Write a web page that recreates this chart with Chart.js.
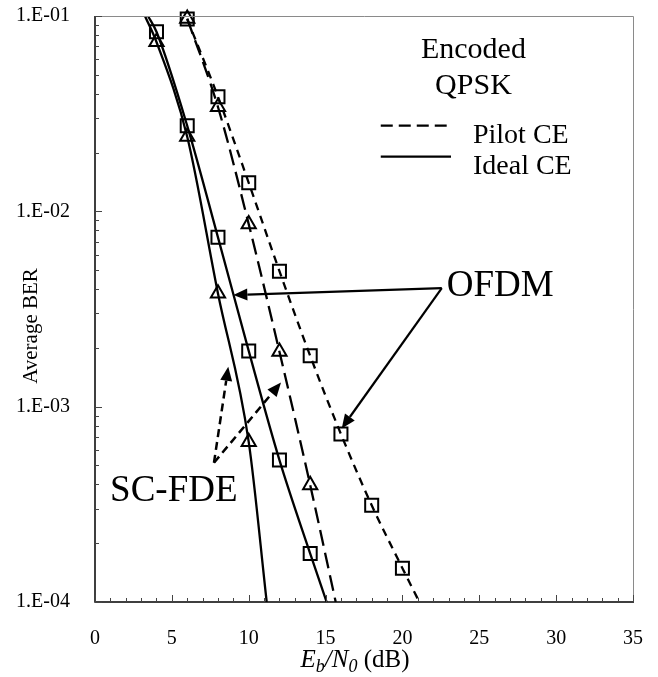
<!DOCTYPE html>
<html><head><meta charset="utf-8">
<script src="https://cdn.jsdelivr.net/npm/chart.js@4.4.0/dist/chart.umd.min.js"></script>
<style>html,body{margin:0;padding:0;background:#fff}</style>
</head><body>
<canvas id="c" width="658" height="677"></canvas>
<script>
// ---- axes ----
const xMin = 0, xMax = 35, xStep = 5;
const yTickValues = [1e-4, 1e-3, 1e-2, 1e-1];
const yTickLabels = ['1.E-04', '1.E-03', '1.E-02', '1.E-01'];

// ---- markers (simulation points) ----
const scIdealSNR = [4, 6, 8, 10];
const scIdealBER = [0.0736, 0.0241, 0.0038, 0.00066];
const ofdmIdealSNR = [4, 6, 8, 10, 12, 14];
const ofdmIdealBER = [0.083, 0.0274, 0.00736, 0.00193, 0.000533, 0.000177];
const scPilotSNR = [6, 8, 10, 12, 14];
const scPilotBER = [0.097, 0.0342, 0.0086, 0.00191, 0.000397];
const ofdmPilotSNR = [6, 8, 10, 12, 14, 16, 18, 20];
const ofdmPilotBER = [0.0965, 0.0386, 0.0140, 0.00494, 0.00182, 0.000724, 0.000313, 0.000149];

// ---- curves (incl. where they leave the frame) ----
const scIdealCurveSNR = [3.25, 4, 6, 8, 10, 11.17];
const scIdealCurveBER = [0.1, 0.0736, 0.0241, 0.0038, 0.00066, 0.0001];
const ofdmIdealCurveSNR = [3.45, 4, 6, 8, 10, 12, 14, 15.07];
const ofdmIdealCurveBER = [0.1, 0.083, 0.0274, 0.00736, 0.00193, 0.000533, 0.000177, 0.0001];
const scPilotCurveSNR = [6, 8, 10, 12, 14, 15.66];
const scPilotCurveBER = [0.097, 0.0342, 0.0086, 0.00191, 0.000397, 0.0001];
const ofdmPilotCurveSNR = [6, 8, 10, 12, 14, 16, 18, 20, 21.1];
const ofdmPilotCurveBER = [0.0965, 0.0386, 0.0140, 0.00494, 0.00182, 0.000724, 0.000313, 0.000149, 0.0001];

// ---- annotation anchors (data coordinates) ----
const ofdmJoin = [22.56, 0.00404];
const ofdmTip1 = [9.0, 0.00373];
const ofdmTip2 = [16.05, 0.000774];
const scFrom = [7.74, 0.000516];
const scTipA = [8.67, 0.0016];
const scTipB = [12.1, 0.00133];
const ofdmLabelAt = [22.88, 0.00368];
const scLabelAt = [0.98, 0.000329];
const titleLine1At = [24.62, 0.0610];
const titleLine2At = [24.62, 0.0399];
const legPilotLine = [18.59, 22.88, 0.02745];
const legPilotText = [24.59, 0.02245];
const legIdealLine = [18.59, 23.16, 0.01904];
const legIdealText = [24.59, 0.01552];

const SERIF = '"Liberation Serif", "Times New Roman", serif';
const pts = (xs, ys) => xs.map((x, i) => ({ x: x, y: ys[i] }));

function curve(xs, ys, dash) {
  return {
    data: pts(xs, ys), showLine: true, borderColor: '#000', borderWidth: 2.3,
    borderDash: dash, pointRadius: 0, pointHoverRadius: 0,
    cubicInterpolationMode: 'monotone', fill: false
  };
}
function marks(xs, ys, style, r) {
  return {
    data: pts(xs, ys), showLine: false, pointStyle: style, pointRadius: r,
    pointBorderColor: '#000', pointBorderWidth: 2,
    pointBackgroundColor: 'rgba(0,0,0,0)', borderColor: '#000',
    backgroundColor: 'rgba(0,0,0,0)', clip: false
  };
}

const deco = {
  id: 'deco',
  afterDatasetsDraw(chart) {
    const { ctx, chartArea: a, scales } = chart;
    const X = v => scales.x.getPixelForValue(v);
    const Y = v => scales.y.getPixelForValue(v);
    ctx.save();
    // frame
    ctx.strokeStyle = '#8a8a8a'; ctx.lineWidth = 1;
    ctx.beginPath();
    ctx.moveTo(a.left, a.top + 0.5); ctx.lineTo(a.right + 0.5, a.top + 0.5); ctx.lineTo(a.right + 0.5, a.bottom);
    ctx.stroke();
    ctx.strokeStyle = '#000'; ctx.lineWidth = 1.5;
    ctx.beginPath();
    ctx.moveTo(a.left, a.top); ctx.lineTo(a.left, a.bottom); ctx.lineTo(a.right + 1, a.bottom);
    ctx.stroke();
    // inward ticks
    ctx.lineWidth = 1; ctx.strokeStyle = '#444';
    ctx.beginPath();
    for (let v = xMin; v <= xMax; v++) {
      const px = Math.round(X(v)) + 0.5, len = v % xStep === 0 ? 7 : 4;
      ctx.moveTo(px, a.bottom); ctx.lineTo(px, a.bottom - len);
    }
    for (let d = 0; d < yTickValues.length; d++) {
      const dec = yTickValues[d];
      for (let m = 1; m <= 9; m++) {
        const v = dec * m;
        if (v > yTickValues[yTickValues.length - 1] * 1.0001) break;
        const py = Math.round(Y(v)) + 0.5, len = m === 1 ? 7 : 4;
        ctx.moveTo(a.left, py); ctx.lineTo(a.left + len, py);
      }
    }
    ctx.stroke();

    // arrows
    function arrow(p0, p1, dashed) {
      const x0 = X(p0[0]), y0 = Y(p0[1]), x1 = X(p1[0]), y1 = Y(p1[1]);
      const ang = Math.atan2(y1 - y0, x1 - x0), L = 14, W = 6;
      const bx = x1 - L * Math.cos(ang), by = y1 - L * Math.sin(ang);
      ctx.save();
      ctx.strokeStyle = '#000'; ctx.fillStyle = '#000';
      ctx.lineWidth = dashed ? 2.5 : 2.2;
      ctx.setLineDash(dashed ? [8, 5] : []);
      ctx.beginPath(); ctx.moveTo(x0, y0); ctx.lineTo(bx, by); ctx.stroke();
      ctx.setLineDash([]);
      ctx.beginPath();
      ctx.moveTo(x1, y1);
      ctx.lineTo(bx + W * Math.sin(ang), by - W * Math.cos(ang));
      ctx.lineTo(bx - W * Math.sin(ang), by + W * Math.cos(ang));
      ctx.closePath(); ctx.fill();
      ctx.restore();
    }
    arrow(ofdmJoin, ofdmTip1, false);
    arrow(ofdmJoin, ofdmTip2, false);
    arrow(scFrom, scTipA, true);
    arrow(scFrom, scTipB, true);

    // texts
    ctx.fillStyle = '#000'; ctx.textBaseline = 'alphabetic';
    ctx.font = '37px ' + SERIF; ctx.textAlign = 'left';
    ctx.fillText('OFDM', X(ofdmLabelAt[0]), Y(ofdmLabelAt[1]));
    ctx.fillText('SC-FDE', X(scLabelAt[0]), Y(scLabelAt[1]));
    ctx.font = '30px ' + SERIF; ctx.textAlign = 'center';
    ctx.fillText('Encoded', X(titleLine1At[0]), Y(titleLine1At[1]));
    ctx.fillText('QPSK', X(titleLine2At[0]), Y(titleLine2At[1]));
    ctx.font = '28px ' + SERIF; ctx.textAlign = 'left';
    ctx.fillText('Pilot CE', X(legPilotText[0]), Y(legPilotText[1]));
    ctx.fillText('Ideal CE', X(legIdealText[0]), Y(legIdealText[1]));
    ctx.lineWidth = 2.2; ctx.strokeStyle = '#000';
    ctx.setLineDash([12, 6]);
    ctx.beginPath(); ctx.moveTo(X(legPilotLine[0]), Y(legPilotLine[2])); ctx.lineTo(X(legPilotLine[1]), Y(legPilotLine[2])); ctx.stroke();
    ctx.setLineDash([]);
    ctx.beginPath(); ctx.moveTo(X(legIdealLine[0]), Y(legIdealLine[2])); ctx.lineTo(X(legIdealLine[1]), Y(legIdealLine[2])); ctx.stroke();

    // axis titles
    const parts = [
      ['E', 'italic 25px', 0], ['b', 'italic 18px', 5], ['/N', 'italic 25px', 0],
      ['0', 'italic 18px', 5], [' (dB)', '25px', 0]
    ];
    let tw = 0;
    parts.forEach(p => { ctx.font = p[1] + ' ' + SERIF; tw += ctx.measureText(p[0]).width; });
    let tx = (a.left + a.right) / 2 - 9 - tw / 2;
    const ty = 667;
    ctx.textAlign = 'left';
    parts.forEach(p => { ctx.font = p[1] + ' ' + SERIF; ctx.fillText(p[0], tx, ty + p[2]); tx += ctx.measureText(p[0]).width; });

    ctx.save();
    ctx.translate(36.5, (a.top + a.bottom) / 2 + 17);
    ctx.rotate(-Math.PI / 2);
    ctx.textAlign = 'center'; ctx.font = '21px ' + SERIF;
    ctx.fillText('Average BER', 0, 0);
    ctx.restore();
    ctx.restore();
  }
};

new Chart(document.getElementById('c'), {
  type: 'scatter',
  data: {
    datasets: [
      curve(ofdmPilotCurveSNR, ofdmPilotCurveBER, [8, 6]),
      curve(scPilotCurveSNR, scPilotCurveBER, [16, 7]),
      curve(ofdmIdealCurveSNR, ofdmIdealCurveBER, []),
      curve(scIdealCurveSNR, scIdealCurveBER, []),
      marks(ofdmPilotSNR, ofdmPilotBER, 'rect', 9.2),
      marks(ofdmIdealSNR, ofdmIdealBER, 'rect', 9.2),
      marks(scPilotSNR, scPilotBER, 'triangle', 8.2),
      marks(scIdealSNR, scIdealBER, 'triangle', 8.2)
    ]
  },
  options: {
    responsive: false, animation: false, devicePixelRatio: 1,
    layout: { padding: { top: 16, right: 25, left: 0, bottom: 0 } },
    plugins: { legend: { display: false }, tooltip: { enabled: false } },
    events: [],
    scales: {
      x: {
        type: 'linear', min: xMin, max: xMax,
        grid: { display: false, drawTicks: false }, border: { display: false },
        ticks: { stepSize: xStep, padding: 25, color: '#000', font: { family: SERIF, size: 20 } },
        afterFit: s => { s.height = 75; s.paddingLeft = 0; s.paddingRight = 0; }
      },
      y: {
        type: 'logarithmic', min: yTickValues[0], max: yTickValues[yTickValues.length - 1],
        grid: { display: false, drawTicks: false }, border: { display: false },
        afterBuildTicks: s => { s.ticks = yTickValues.map(v => ({ value: v, major: true })); },
        ticks: {
          padding: 25, color: '#000', font: { family: SERIF, size: 20 },
          callback: v => { const i = yTickValues.findIndex(t => Math.abs(t - v) / t < 1e-6); return i >= 0 ? yTickLabels[i] : ''; }
        },
        afterFit: s => { s.width = 95; s.paddingTop = 0; s.paddingBottom = 0; }
      }
    }
  },
  plugins: [deco]
});
</script>
</body></html>
